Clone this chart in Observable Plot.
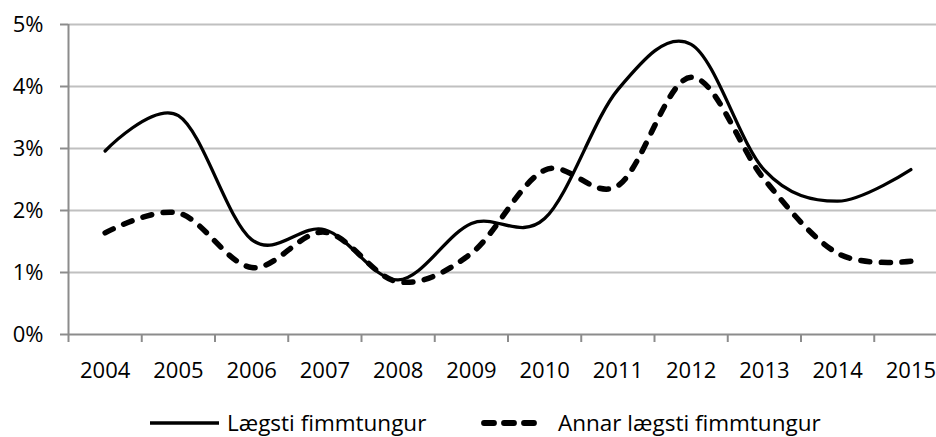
<!DOCTYPE html>
<html>
<head>
<meta charset="utf-8">
<script src="https://cdn.jsdelivr.net/npm/d3@7"></script>
<script src="https://cdn.jsdelivr.net/npm/@observablehq/plot@0.6"></script>
<style>
  html, body { margin: 0; padding: 0; background: #fff; }
  #chart { position: relative; width: 936px; height: 437px; font-family: "Open Sans", sans-serif; }
  #legend { position: absolute; left: 0; top: 388px; }
  #legend text { font-family: "Open Sans", sans-serif; font-size: 22.5px; fill: #000; }
</style>
</head>
<body>
<div id="chart"></div>
<script>
// ---- data (percent) ----
const years = [2004, 2005, 2006, 2007, 2008, 2009, 2010, 2011, 2012, 2013, 2014, 2015];
const lowestQuintile = [2.96, 3.53, 1.53, 1.69, 0.88, 1.79, 1.87, 3.95, 4.68, 2.65, 2.15, 2.66];
const secondQuintile = [1.64, 1.96, 1.08, 1.65, 0.85, 1.31, 2.65, 2.40, 4.15, 2.50, 1.31, 1.18];
const seriesNames = ["Lægsti fimmtungur", "Annar lægsti fimmtungur"];
const yTicks = [0, 1, 2, 3, 4, 5];

// ---- derived tables ----
const rows1 = years.map((year, i) => ({year, value: lowestQuintile[i], series: seriesNames[0]}));
const rows2 = years.map((year, i) => ({year, value: secondQuintile[i], series: seriesNames[1]}));
const boundaries = years.map(y => y - 0.5).concat([years[years.length - 1] + 0.5]);

const axisGrey = "#8c8c8c";
const gridGrey = "#c0c0c0";

const plot = Plot.plot({
  width: 936,
  height: 388,
  marginLeft: 68,
  marginRight: 0,
  marginTop: 24,
  marginBottom: 54,
  style: {fontFamily: "Open Sans, sans-serif", fontSize: "22px", color: "#000", background: "#fff", overflow: "visible"},
  x: {domain: [years[0] - 0.5, years[years.length - 1] + 0.5], range: [68, 947]},
  y: {domain: [0, 5], range: [334, 24]},
  marks: [
    Plot.ruleY(yTicks.filter(d => d > 0), {stroke: gridGrey, strokeWidth: 2}),
    Plot.ruleY([0], {stroke: axisGrey, strokeWidth: 2}),
    Plot.ruleX([years[0] - 0.5], {y1: 0, y2: 5, stroke: axisGrey, strokeWidth: 2}),
    Plot.axisY({ticks: yTicks, tickFormat: d => d + "%", tickSize: 8, tickPadding: 17,
      stroke: axisGrey, strokeWidth: 2, strokeOpacity: 1, fill: "#000", fontSize: 22, label: null}),
    Plot.axisX({ticks: boundaries, tickFormat: () => "", tickSize: 8,
      stroke: axisGrey, strokeWidth: 2, strokeOpacity: 1, label: null}),
    Plot.axisX({ticks: years, tickFormat: d => String(d), tickSize: 0, tickPadding: 28,
      fill: "#000", fontSize: 22, label: null}),
    Plot.line(rows1, {x: "year", y: "value", curve: "cardinal", stroke: "#000", strokeWidth: 3.3}),
    Plot.line(rows2, {x: "year", y: "value", curve: "cardinal", stroke: "#000", strokeWidth: 5.5,
      strokeDasharray: "9,11.5", strokeLinecap: "round"})
  ]
});

const chart = document.getElementById("chart");
chart.appendChild(plot);

// ---- legend ----
const ns = "http://www.w3.org/2000/svg";
const leg = document.createElementNS(ns, "svg");
leg.setAttribute("id", "legend");
leg.setAttribute("width", 936);
leg.setAttribute("height", 49);
const items = [
  {name: seriesNames[0], x1: 150, x2: 219, tx: 227, width: 3.6, dash: null},
  {name: seriesNames[1], x1: 484, x2: 539, tx: 558, width: 5.8, dash: "10,10"}
];
for (const it of items) {
  const l = document.createElementNS(ns, "line");
  l.setAttribute("x1", it.x1); l.setAttribute("x2", it.x2);
  l.setAttribute("y1", 35); l.setAttribute("y2", 35);
  l.setAttribute("stroke", "#000");
  l.setAttribute("stroke-width", it.width);
  if (it.dash) { l.setAttribute("stroke-dasharray", it.dash); l.setAttribute("stroke-linecap", "round"); }
  leg.appendChild(l);
  const t = document.createElementNS(ns, "text");
  t.setAttribute("x", it.tx); t.setAttribute("y", 42.5);
  t.textContent = it.name;
  leg.appendChild(t);
}
chart.appendChild(leg);
</script>
</body>
</html>
